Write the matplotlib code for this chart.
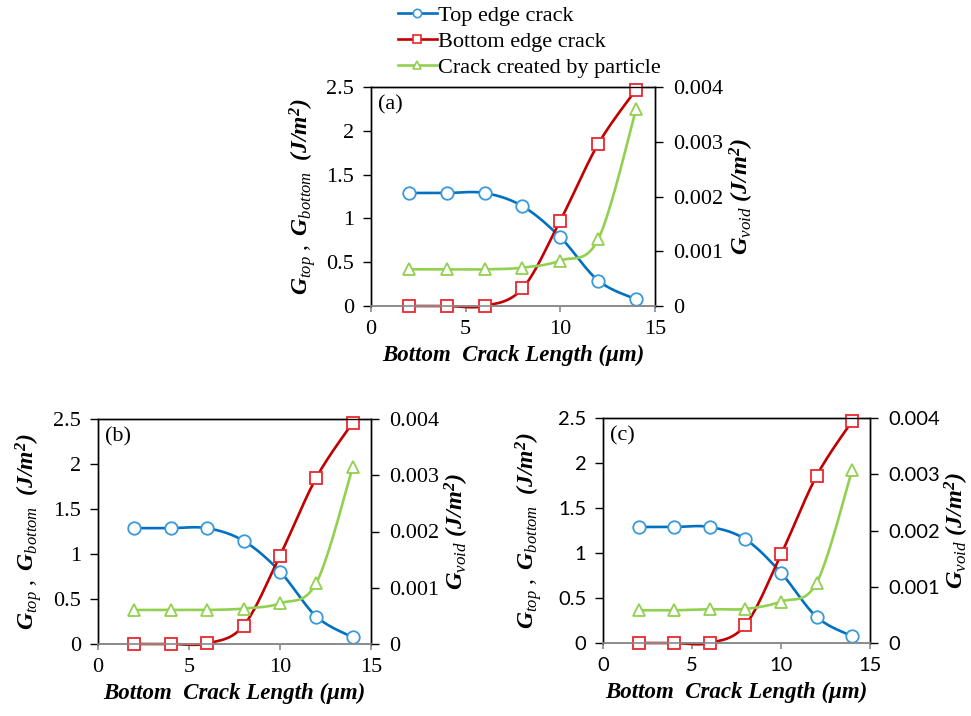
import numpy as np
import matplotlib.pyplot as plt
from matplotlib.lines import Line2D
from matplotlib.ticker import FuncFormatter

plt.rcParams["font.family"] = "Liberation Serif"
plt.rcParams["mathtext.fontset"] = "custom"
plt.rcParams["mathtext.rm"] = "Liberation Serif"
plt.rcParams["mathtext.it"] = "Liberation Serif:italic"
plt.rcParams["mathtext.bf"] = "Liberation Serif:bold"
plt.rcParams["mathtext.bfit"] = "Liberation Serif:bold:italic"

crack_len = [2, 4, 6, 8, 10, 12, 14]

top_a = [1.29, 1.29, 1.29, 1.14, 0.785, 0.29, 0.076]
bottom_a = [0, 0, 0, 0.20, 0.976, 1.85, 2.47]
void_a = [0.00067, 0.00067, 0.00067, 0.00070, 0.00083, 0.00122, 0.00359]

top_b = [1.287, 1.287, 1.287, 1.146, 0.805, 0.304, 0.074]
bottom_b = [0, 0, 0.007, 0.204, 0.983, 1.85, 2.46]
void_b = [0.000605, 0.000605, 0.000605, 0.00063, 0.000724, 0.00109, 0.00315]

top_c = [1.289, 1.289, 1.289, 1.152, 0.78, 0.29, 0.074]
bottom_c = [0, 0, 0, 0.20, 0.984, 1.857, 2.466]
void_c = [0.000582, 0.000582, 0.0006, 0.000606, 0.000737, 0.00107, 0.00308]

BLUE, BLUE_MK = "#0070C0", "#3A9AD9"
RED, RED_MK = "#C00000", "#E8282E"
GREEN = "#92D050"


def smooth(x, y, n=24):
    # Bezier smoothing through every point (same idea as a spreadsheet "smoothed line")
    p = np.column_stack([x, y]).astype(float)
    p = np.vstack([p[0], p, p[-1]])
    t = np.linspace(0, 1, n)[:, None]
    out = []
    for i in range(1, len(p) - 2):
        p0, p3 = p[i], p[i + 1]
        p1 = p0 + (p[i + 1] - p[i - 1]) / 6
        p2 = p3 - (p[i + 2] - p[i]) / 6
        seg = ((1 - t) ** 3) * p0 + 3 * ((1 - t) ** 2) * t * p1 + 3 * (1 - t) * t ** 2 * p2 + t ** 3 * p3
        out.append(seg if i == 1 else seg[1:])
    out = np.vstack(out)
    return out[:, 0], out[:, 1]


def draw_sx(x, y, xlim, ylim, ax, color, mk, mkcolor):
    # smooth in axes-normalised space, so the curve shape does not depend on units
    xs = (np.asarray(x) - xlim[0]) / (xlim[1] - xlim[0])
    ys = (np.asarray(y) - ylim[0]) / (ylim[1] - ylim[0])
    sx, sy = smooth(xs, ys)
    ax.plot(sx * (xlim[1] - xlim[0]) + xlim[0], sy * (ylim[1] - ylim[0]) + ylim[0],
            color=color, lw=1.9, zorder=2, clip_on=False)
    ax.plot(x, y, ls="none", marker=mk, ms=9, mfc="white", mec=mkcolor, mew=1.3,
            zorder=3, clip_on=False)


fmt = FuncFormatter(lambda v, _: "{:g}".format(round(v, 4)))


def panel(rect, top, bottom, void, tag, off_l, off_r, tick_font, tick_size):
    fig_w, fig_h = 971, 716
    wpx, hpx = rect[2] * fig_w, rect[3] * fig_h
    ax = fig.add_axes(rect)
    ax2 = ax.twinx()
    xlim, ylim, ylim2 = (0, 15), (0, 2.5), (0, 0.004)

    ax.set_xlim(xlim)
    ax.set_ylim(ylim)
    ax2.set_ylim(ylim2)
    ax.set_xticks([0, 5, 10, 15])
    ax.set_yticks(np.arange(0, 2.51, 0.5))
    ax2.set_yticks(np.arange(0, 0.00401, 0.001))
    ax.yaxis.set_major_formatter(fmt)
    ax2.yaxis.set_major_formatter(fmt)

    draw_sx(crack_len, top, xlim, ylim, ax, BLUE, "o", BLUE_MK)
    draw_sx(crack_len, bottom, xlim, ylim, ax, RED, "s", RED_MK)
    draw_sx(crack_len, void, xlim, ylim2, ax2, GREEN, "^", GREEN)

    for a in (ax, ax2):
        a.spines["bottom"].set_color("#8a8a8a")
        a.spines["bottom"].set_linewidth(1.2)
        for s in ("left", "right", "top"):
            a.spines[s].set_color("black")
            a.spines[s].set_linewidth(1.0)
    ax.tick_params(axis="y", direction="out", length=6, width=1, pad=6, labelsize=tick_size)
    ax2.tick_params(axis="y", direction="out", length=6, width=1, pad=7, labelsize=tick_size)
    ax.tick_params(axis="x", direction="out", length=4, width=1.2, color="#8a8a8a",
                   pad=6, labelsize=tick_size)
    for lab in ax.get_xticklabels() + ax.get_yticklabels() + ax2.get_yticklabels():
        lab.set_family(tick_font)

    ax.set_xlabel("Bottom  Crack Length (\u03bcm)", fontsize=16.5, fontweight="bold",
                  fontstyle="italic", va="center")
    ax.xaxis.set_label_coords(0.5, -49 / hpx)
    ax.set_ylabel(r"$\mathbfit{G}_{\mathit{top}}\ ,\ \mathbfit{G}_{\mathit{bottom}}\ \ \mathbfit{(J/m^2)}$",
                  fontsize=17, va="center")
    ax.yaxis.set_label_coords(-off_l / wpx, 0.5)
    ax2.set_ylabel(r"$\mathbfit{G}_{\mathit{void}}\ \mathbfit{(J/m^2)}$", fontsize=17.5,
                   rotation=90, va="center")
    ax2.yaxis.set_label_coords(1 + off_r / wpx, 0.5)

    ax.text(7 / wpx, 1 - 8 / hpx, tag, transform=ax.transAxes, fontsize=16,
            ha="left", va="top")
    return ax


fig = plt.figure(figsize=(9.71, 7.16), dpi=100)

panel([371 / 971, 1 - 306 / 716, 284 / 971, 219 / 716], top_a, bottom_a, void_a,
      "(a)", 69, 87, "Liberation Serif", 16)
panel([98 / 971, 1 - 644 / 716, 273 / 971, 225 / 716], top_b, bottom_b, void_b,
      "(b)", 70, 86, "Liberation Serif", 16)
panel([603 / 971, 1 - 643 / 716, 267 / 971, 225 / 716], top_c, bottom_c, void_c,
      "(c)", 75, 87, "Lato", 14.5)

handles = [
    Line2D([], [], color=BLUE, lw=1.9, marker="o", ms=6, mfc="white", mec=BLUE_MK, mew=1.2),
    Line2D([], [], color=RED, lw=1.9, marker="s", ms=6, mfc="white", mec=RED_MK, mew=1.2),
    Line2D([], [], color=GREEN, lw=1.9, marker="^", ms=6, mfc="white", mec=GREEN, mew=1.2),
]
fig.legend(handles, ["Top edge crack", "Bottom edge crack", "Crack created by particle"],
           loc="upper left", bbox_to_anchor=(398 / 971, 1 - 5 / 716), frameon=False,
           fontsize=16, handlelength=1.75, handletextpad=0.05, labelspacing=0.26,
           borderpad=0, borderaxespad=0)

fig.savefig("out.png", dpi=100)
